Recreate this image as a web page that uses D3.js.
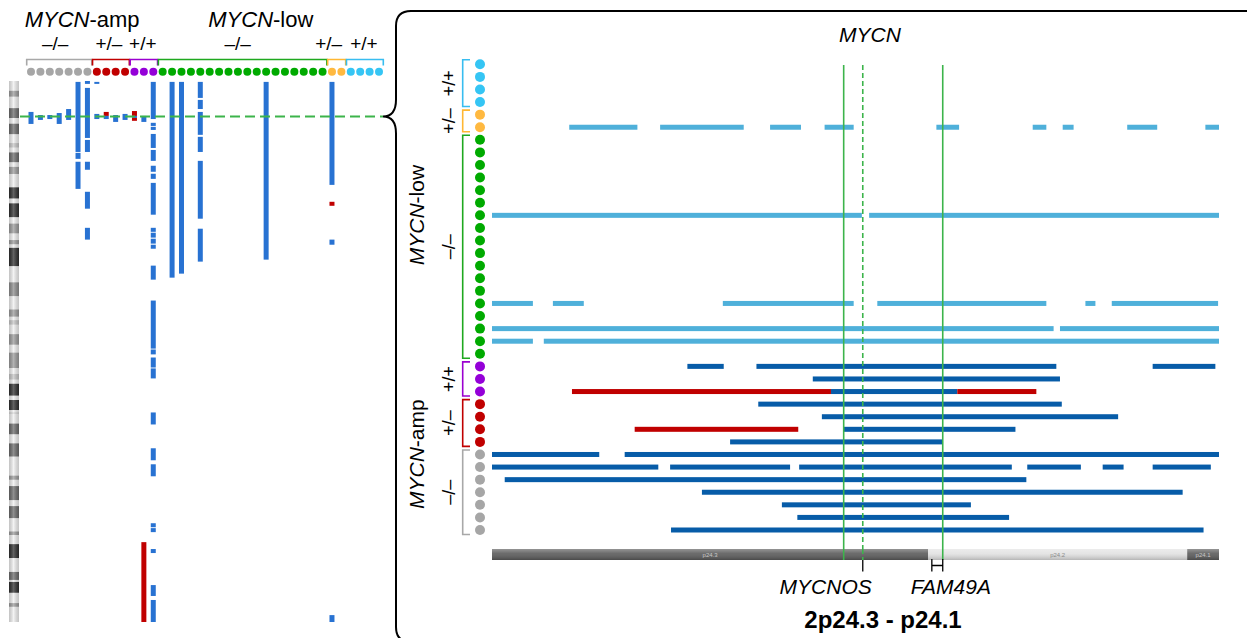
<!DOCTYPE html>
<html>
<head>
<meta charset="utf-8">
<script src="https://cdn.jsdelivr.net/npm/d3@7"></script>
<style>
  body { margin: 0; background: #fff; }
  svg { display: block; font-family: 'Liberation Sans', Arial, sans-serif; }
</style>
</head>
<body>
<svg id="fig" width="1247" height="638"></svg>
<script>
// ---- data -----------------------------------------------------------------
// sample groups, left-to-right order of the genome-wide panel
const groupSet   = ['amp', 'amp', 'amp', 'low', 'low', 'low'];
const groupGeno  = ['–/–', '+/–', '+/+', '–/–', '+/–', '+/+'];
const groupSizes = [7, 4, 3, 18, 2, 4];

// chromosome 2 cytobands (Mb)
const chr2Bands = [
  [0, 4.4, 'gneg'], [4.4, 7.1, 'gpos50'], [7.1, 12.2, 'gneg'], [12.2, 16.7, 'gpos75'],
  [16.7, 19.2, 'gneg'], [19.2, 24.0, 'gpos75'], [24.0, 27.9, 'gneg'], [27.9, 30.0, 'gpos25'],
  [30.0, 32.1, 'gneg'], [32.1, 36.6, 'gpos75'], [36.6, 38.6, 'gneg'], [38.6, 41.8, 'gpos50'],
  [41.8, 47.8, 'gneg'], [47.8, 52.9, 'gpos100'], [52.9, 55.0, 'gneg'], [55.0, 61.3, 'gpos100'],
  [61.3, 64.1, 'gneg'], [64.1, 68.6, 'gpos50'], [68.6, 71.5, 'gneg'], [71.5, 73.5, 'gpos50'],
  [73.5, 75.0, 'gneg'], [75.0, 83.3, 'gpos100'], [83.3, 90.5, 'gneg'], [90.5, 96.8, 'acen'],
  [96.8, 102.7, 'gneg'], [102.7, 106.0, 'gpos50'], [106.0, 107.5, 'gneg'], [107.5, 109.6, 'gpos25'],
  [109.6, 113.8, 'gneg'], [113.8, 118.6, 'gpos50'], [118.6, 122.1, 'gneg'], [122.1, 129.1, 'gpos50'],
  [129.1, 131.7, 'gneg'], [131.7, 134.3, 'gpos25'], [134.3, 136.1, 'gneg'], [136.1, 141.5, 'gpos100'],
  [141.5, 143.4, 'gneg'], [143.4, 147.9, 'gpos100'], [147.9, 149.0, 'gneg'], [149.0, 149.6, 'gpos25'],
  [149.6, 154.0, 'gneg'], [154.0, 158.9, 'gpos75'], [158.9, 162.9, 'gneg'], [162.9, 168.9, 'gpos75'],
  [168.9, 177.4, 'gneg'], [177.4, 179.3, 'gpos50'], [179.3, 182.1, 'gneg'], [182.1, 188.5, 'gpos75'],
  [188.5, 191.1, 'gneg'], [191.1, 196.6, 'gpos75'], [196.6, 202.5, 'gneg'], [202.5, 204.1, 'gpos50'],
  [204.1, 208.2, 'gneg'], [208.2, 214.5, 'gpos100'], [214.5, 220.7, 'gneg'], [220.7, 224.3, 'gpos75'],
  [224.3, 225.2, 'gneg'], [225.2, 230.1, 'gpos100'], [230.1, 234.7, 'gneg'], [234.7, 236.4, 'gpos50'],
  [236.4, 243.2, 'gneg']
];
const chr2Length = 243.2;

// zoomed region 2p24.3 - p24.1 (Mb)
const regionRange = [11.9, 19.9];
const regionBands = [['p24.3', 11.9, 16.7, 'gpos75'], ['p24.2', 16.7, 19.55, 'gneg'], ['p24.1', 19.55, 19.9, 'gpos75']];
const mycnPos = 15.98;                 // MYCN / MYCNOS
const sroBounds = [15.77, 16.86];      // solid guide lines
const fam49a = [16.74, 16.86];

// genome-wide calls per sample id: [id, start Mb, end Mb, type]
const chr2Calls = [
  [0, 13.9, 19.3, 'loss'], [1, 15.3, 17.5, 'loss'], [2, 15.3, 17.1, 'loss'], [3, 14.4, 19.3, 'loss'],
  [4, 12.6, 17.5, 'loss'],
  [5, 0.4, 31.9, 'loss'], [5, 32.3, 35.0, 'loss'], [5, 36.3, 48.5, 'loss'],
  [6, 0, 1.3, 'loss'], [6, 3.1, 25.6, 'loss'], [6, 26.5, 31.9, 'loss'], [6, 36.3, 39.9, 'loss'],
  [6, 49.8, 57.4, 'loss'], [6, 66.0, 71.3, 'loss'],
  [7, 0.4, 1.3, 'loss'], [7, 14.8, 17.1, 'loss'],
  [8, 13.9, 15.7, 'gain'], [8, 15.7, 17.1, 'loss'],
  [9, 15.3, 18.4, 'loss'], [10, 14.8, 17.5, 'loss'],
  [11, 13.5, 15.7, 'gain'], [11, 15.7, 16.6, 'loss'], [11, 16.6, 17.9, 'gain'],
  [12, 15.7, 18.4, 'loss'], [12, 207.3, 243.2, 'gain'],
  [13, 0.4, 17.1, 'loss'], [13, 18.8, 20.2, 'loss'], [13, 20.6, 22.0, 'loss'], [13, 23.8, 30.1, 'loss'],
  [13, 31.0, 35.9, 'loss'], [13, 38.1, 40.8, 'loss'], [13, 41.7, 44.0, 'loss'], [13, 45.8, 60.1, 'loss'],
  [13, 66.0, 67.8, 'loss'], [13, 68.2, 70.4, 'loss'], [13, 70.9, 73.1, 'loss'], [13, 73.6, 75.4, 'loss'],
  [13, 83.0, 89.3, 'loss'], [13, 98.7, 120.3, 'loss'], [13, 120.7, 122.9, 'loss'], [13, 124.3, 128.8, 'loss'],
  [13, 129.2, 133.7, 'loss'], [13, 149.0, 154.4, 'loss'], [13, 165.1, 170.5, 'loss'], [13, 172.3, 177.7, 'loss'],
  [13, 198.8, 200.6, 'loss'], [13, 201.0, 202.8, 'loss'], [13, 210.4, 212.2, 'loss'], [13, 226.6, 231.5, 'loss'],
  [13, 233.3, 243.2, 'loss'],
  [15, 0.4, 88.4, 'loss'], [16, 0.4, 86.6, 'loss'],
  [18, 0.4, 7.6, 'loss'], [18, 8.5, 12.6, 'loss'], [18, 13.9, 24.2, 'loss'], [18, 25.1, 31.9, 'loss'],
  [18, 35.9, 61.9, 'loss'], [18, 66.4, 81.2, 'loss'],
  [25, 0.4, 80.3, 'loss'],
  [32, 0.4, 46.7, 'loss'], [32, 54.3, 56.1, 'gain'], [32, 71.3, 73.6, 'loss'], [32, 240.1, 243.2, 'loss']
];

// calls inside 2p24.3 - p24.1: [id, start Mb, end Mb, type]
const regionCalls = [
  [32, 12.75, 13.50, 'loss'], [32, 13.75, 14.67, 'loss'], [32, 14.96, 15.30, 'loss'], [32, 15.56, 15.88, 'loss'],
  [32, 16.79, 17.04, 'loss'], [32, 17.85, 18.00, 'loss'], [32, 18.18, 18.30, 'loss'], [32, 18.89, 19.22, 'loss'],
  [32, 19.75, 19.90, 'loss'],
  [25, 11.90, 15.97, 'loss'], [25, 16.05, 19.90, 'loss'],
  [18, 11.90, 12.35, 'loss'], [18, 12.57, 12.91, 'loss'], [18, 14.44, 15.88, 'loss'], [18, 16.14, 18.00, 'loss'],
  [18, 18.43, 18.54, 'loss'], [18, 18.72, 19.89, 'loss'],
  [16, 11.90, 18.08, 'loss'], [16, 18.15, 19.90, 'loss'],
  [15, 11.90, 12.35, 'loss'], [15, 12.47, 19.90, 'loss'],
  [13, 14.05, 14.45, 'loss'], [13, 14.81, 18.11, 'loss'], [13, 19.17, 19.86, 'loss'],
  [12, 15.43, 18.15, 'loss'],
  [11, 12.78, 15.63, 'gain'], [11, 15.63, 17.02, 'loss'], [11, 17.02, 17.89, 'gain'],
  [10, 14.83, 18.17, 'loss'],
  [9, 15.53, 18.79, 'loss'],
  [8, 13.47, 15.27, 'gain'], [8, 15.77, 17.66, 'loss'],
  [7, 14.52, 16.86, 'loss'],
  [6, 11.90, 13.08, 'loss'], [6, 13.36, 19.90, 'loss'],
  [5, 11.90, 13.73, 'loss'], [5, 13.86, 15.18, 'loss'], [5, 15.28, 17.62, 'loss'], [5, 17.79, 18.38, 'loss'],
  [5, 18.62, 18.85, 'loss'], [5, 19.17, 19.81, 'loss'],
  [4, 12.04, 17.78, 'loss'],
  [3, 14.21, 19.50, 'loss'],
  [2, 15.09, 17.17, 'loss'],
  [1, 15.26, 17.59, 'loss'],
  [0, 13.87, 19.73, 'loss']
];

// ---- styles ---------------------------------------------------------------
const dotColor = ['#a6a6a6', '#c00000', '#9400d8', '#00aa00', '#ffb940', '#35c5f4'];
const brkColor = ['#a8a8a8', '#c00000', '#9a00d0', '#1fa81f', '#ffb733', '#38bdf0'];
const headShift = [-4, -2, -1, -5, -8, -1];   // header label nudges (px)
const stainFill = { gneg: '#efefef', gpos25: '#c4c4c4', gpos50: '#9a9a9a', gpos75: '#6a6a6a', gpos100: '#2e2e2e', acen: '#8c8c8c' };
const GREEN = '#3cb44b';
const LOSS_LEFT = '#2872d2', GAIN = '#c00000';
const LOSS_LOW = '#4fb0da', LOSS_AMP = '#075ca8';

// ---- derived sample table --------------------------------------------------
const samples = [];
groupSizes.forEach((n, g) => { for (let i = 0; i < n; i++) samples.push({ id: samples.length, g }); });
const groupIds = groupSizes.map((n, g) => samples.filter(s => s.g === g).map(s => s.id));

const svg = d3.select('#fig');
const defs = svg.append('defs');

const cyl = defs.append('linearGradient').attr('id', 'cylH').attr('x1', 0).attr('x2', 1).attr('y1', 0).attr('y2', 0);
cyl.append('stop').attr('offset', '0%').attr('stop-color', '#000').attr('stop-opacity', 0.18);
cyl.append('stop').attr('offset', '45%').attr('stop-color', '#fff').attr('stop-opacity', 0.25);
cyl.append('stop').attr('offset', '100%').attr('stop-color', '#000').attr('stop-opacity', 0.18);
const cylV = defs.append('linearGradient').attr('id', 'cylV').attr('x1', 0).attr('x2', 0).attr('y1', 0).attr('y2', 1);
cylV.append('stop').attr('offset', '0%').attr('stop-color', '#fff').attr('stop-opacity', 0.35);
cylV.append('stop').attr('offset', '40%').attr('stop-color', '#fff').attr('stop-opacity', 0.1);
cylV.append('stop').attr('offset', '100%').attr('stop-color', '#000').attr('stop-opacity', 0.2);

// ---- left: genome-wide chr2 panel -------------------------------------------
const xL = d3.scalePoint().domain(d3.range(samples.length)).range([31, 379]);
const yL = d3.scaleLinear().domain([0, chr2Length]).range([81, 622]);
const gL = svg.append('g');

// ideogram
const ideo = gL.append('g');
ideo.selectAll('rect.band').data(chr2Bands).join('rect')
  .attr('class', 'band')
  .attr('x', 9).attr('width', 10)
  .attr('y', d => yL(d[0])).attr('height', d => yL(d[1]) - yL(d[0]))
  .attr('fill', d => stainFill[d[2]]);
ideo.append('rect').attr('x', 9).attr('width', 10).attr('y', yL(0)).attr('height', yL(chr2Length) - yL(0))
  .attr('fill', 'url(#cylH)');

// header texts
function italicLabel(sel, rest) {
  sel.append('tspan').attr('font-style', 'italic').text('MYCN');
  sel.append('tspan').text(rest);
}
const ampIds = samples.filter(s => groupSet[s.g] === 'amp').map(s => s.id);
const lowIds = samples.filter(s => groupSet[s.g] === 'low').map(s => s.id);
[[ampIds, '-amp'], [lowIds, '-low']].forEach(([ids, rest]) => {
  const cx = (xL(ids[0]) + xL(ids[ids.length - 1])) / 2 - 10;
  gL.append('text').attr('x', cx).attr('y', 27).attr('text-anchor', 'middle')
    .attr('font-size', 22).call(italicLabel, rest);
});

groupIds.forEach((ids, g) => {
  const x0 = xL(ids[0]) - 4.3, x1 = xL(ids[ids.length - 1]) + 4.3;
  gL.append('text').attr('x', (x0 + x1) / 2 + headShift[g]).attr('y', 50).attr('text-anchor', 'middle')
    .attr('font-size', 19).text(groupGeno[g]);
  gL.append('path').attr('d', `M${x0},65.5V59.5H${x1}V65.5`)
    .attr('fill', 'none').attr('stroke', brkColor[g]).attr('stroke-width', 1.6);
});

gL.selectAll('circle').data(samples).join('circle')
  .attr('cx', d => xL(d.id)).attr('cy', 71.7).attr('r', 4)
  .attr('fill', d => dotColor[d.g]);

gL.selectAll('rect.call').data(chr2Calls).join('rect')
  .attr('class', 'call')
  .attr('x', d => xL(d[0]) - 2.5).attr('width', 5)
  .attr('y', d => yL(d[1])).attr('height', d => Math.max(1.5, yL(d[2]) - yL(d[1])))
  .attr('fill', d => d[3] === 'gain' ? GAIN : LOSS_LEFT);

gL.append('line')
  .attr('x1', 20).attr('x2', 383).attr('y1', yL(mycnPos)).attr('y2', yL(mycnPos))
  .attr('stroke', GREEN).attr('stroke-width', 2).attr('stroke-dasharray', '10,5');

// ---- brace / box ----------------------------------------------------------
const by = yL(mycnPos);
svg.append('path')
  .attr('d', `M1260,11H411Q396,11 396,26V${by - 17}Q396,${by} 383,${by}Q396,${by} 396,${by + 17}V627Q396,642 411,642H1260`)
  .attr('fill', 'none').attr('stroke', '#000').attr('stroke-width', 2);

// ---- right: 2p24.3 - p24.1 zoom ------------------------------------------
const xR = d3.scaleLinear().domain(regionRange).range([492, 1219]);
const yR = d3.scalePoint().domain(d3.range(samples.length)).range([530, 64.3]);
const gR = svg.append('g');

groupIds.forEach((ids, g) => {
  const y0 = yR(ids[ids.length - 1]) - 4.5, y1 = yR(ids[0]) + 4.5;
  gR.append('path').attr('d', `M470,${y0}H462.7V${y1}H470`)
    .attr('fill', 'none').attr('stroke', brkColor[g]).attr('stroke-width', 1.6);
  const cy = (y0 + y1) / 2;
  gR.append('text').attr('transform', `translate(455,${cy}) rotate(-90)`)
    .attr('text-anchor', 'middle').attr('font-size', 18).text(groupGeno[g]);
});
[[ampIds, '-amp'], [lowIds, '-low']].forEach(([ids, rest]) => {
  const cy = (yR(ids[0]) + yR(ids[ids.length - 1])) / 2 + 6;
  gR.append('text').attr('transform', `translate(424,${cy}) rotate(-90)`)
    .attr('text-anchor', 'middle').attr('font-size', 21).call(italicLabel, rest);
});

gR.selectAll('circle').data(samples).join('circle')
  .attr('cx', 480).attr('cy', d => yR(d.id)).attr('r', 5)
  .attr('fill', d => dotColor[d.g]);

gR.selectAll('rect.call').data(regionCalls).join('rect')
  .attr('class', 'call')
  .attr('x', d => xR(d[1])).attr('width', d => xR(d[2]) - xR(d[1]))
  .attr('y', d => yR(d[0]) - 2.5).attr('height', 5)
  .attr('fill', d => d[3] === 'gain' ? GAIN : (groupSet[samples[d[0]].g] === 'low' ? LOSS_LOW : LOSS_AMP));

// guide lines
sroBounds.forEach(p => gR.append('line')
  .attr('x1', xR(p)).attr('x2', xR(p)).attr('y1', 65).attr('y2', 559)
  .attr('stroke', GREEN).attr('stroke-width', 1.6));
gR.append('line')
  .attr('x1', xR(mycnPos)).attr('x2', xR(mycnPos)).attr('y1', 65).attr('y2', 559)
  .attr('stroke', GREEN).attr('stroke-width', 1.6).attr('stroke-dasharray', '5,3');

// region ideogram
const ideoY = 549, ideoH = 11;
const rb = gR.append('g');
rb.selectAll('rect.band').data(regionBands).join('rect')
  .attr('class', 'band')
  .attr('x', d => xR(d[1])).attr('width', d => xR(d[2]) - xR(d[1]))
  .attr('y', ideoY).attr('height', ideoH)
  .attr('fill', d => d[3] === 'gneg' ? '#e2e2e2' : '#5c5c5c');
rb.append('rect').attr('x', xR(regionRange[0])).attr('width', xR(regionRange[1]) - xR(regionRange[0]))
  .attr('y', ideoY).attr('height', ideoH).attr('fill', 'url(#cylV)');
rb.selectAll('text').data(regionBands).join('text')
  .attr('x', d => (xR(d[1]) + xR(d[2])) / 2).attr('y', ideoY + 7.5)
  .attr('text-anchor', 'middle').attr('font-size', 6)
  .attr('fill', d => d[3] === 'gneg' ? '#8a8a8a' : '#c8c8c8')
  .text(d => d[0]);

// guide lines continue across the ideogram
sroBounds.forEach(p => gR.append('line')
  .attr('x1', xR(p)).attr('x2', xR(p)).attr('y1', ideoY).attr('y2', ideoY + ideoH)
  .attr('stroke', GREEN).attr('stroke-width', 1.6));
gR.append('line')
  .attr('x1', xR(mycnPos)).attr('x2', xR(mycnPos)).attr('y1', ideoY).attr('y2', ideoY + ideoH)
  .attr('stroke', GREEN).attr('stroke-width', 1.6).attr('stroke-dasharray', '5,3');

// gene ticks
gR.append('line').attr('x1', xR(mycnPos)).attr('x2', xR(mycnPos)).attr('y1', 560).attr('y2', 571.5)
  .attr('stroke', '#000').attr('stroke-width', 1.3);
gR.append('path')
  .attr('d', `M${xR(fam49a[0])},559V571.5M${xR(fam49a[0])},565.5H${xR(fam49a[1])}M${xR(fam49a[1])},559V571.5`)
  .attr('fill', 'none').attr('stroke', '#000').attr('stroke-width', 1.3);

gR.append('text').attr('x', xR(mycnPos) + 9).attr('y', 594).attr('text-anchor', 'end')
  .attr('font-size', 21).attr('font-style', 'italic').text('MYCNOS');
gR.append('text').attr('x', xR(fam49a[0]) - 21).attr('y', 594)
  .attr('font-size', 21).attr('font-style', 'italic').text('FAM49A');

gR.append('text').attr('x', 883).attr('y', 628).attr('text-anchor', 'middle')
  .attr('font-size', 24).attr('font-weight', 'bold').text('2p24.3 - p24.1');
gR.append('text').attr('x', 870).attr('y', 42).attr('text-anchor', 'middle')
  .attr('font-size', 21).attr('font-style', 'italic').text('MYCN');
</script>
</body>
</html>
